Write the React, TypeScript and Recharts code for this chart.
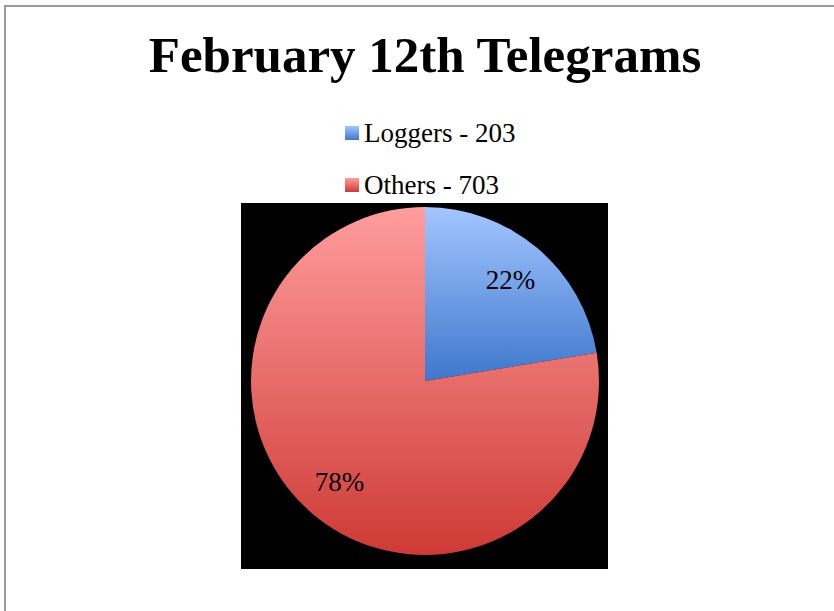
import React from 'react';
import { PieChart, Pie, Cell } from 'recharts';

const categories = ['Loggers', 'Others'];
const counts = [203, 703];
const legendLabels = ['Loggers - 203', 'Others - 703'];
const percentLabels = ['22%', '78%'];

const gradients = [
  { id: 'gLoggers', top: '#a3c6ff', bottom: '#3f77cc' },
  { id: 'gOthers', top: '#ff9d9d', bottom: '#ce3a35' },
];

const data = categories.map((name, i) => ({ name, value: counts[i] }));

const SERIF = '"Liberation Serif", "DejaVu Serif", serif';
const RADIAN = Math.PI / 180;

const renderLabel = (props: any) => {
  const { cx, cy, midAngle, outerRadius, index } = props;
  const r = outerRadius * 0.76;
  const x = cx + r * Math.cos(-midAngle * RADIAN);
  const y = cy + r * Math.sin(-midAngle * RADIAN);
  return (
    <text x={x} y={y} fill="#000" textAnchor="middle" dominantBaseline="central"
      fontFamily={SERIF} fontSize={27}>
      {percentLabels[index]}
    </text>
  );
};

const App: React.FC = () => {
  return (
    <div style={{ position: 'fixed', left: 0, top: 0, width: 834, height: 611, background: '#fff', overflow: 'hidden' }}>
      <div style={{
        position: 'absolute', left: 4, top: 5, width: 900, height: 700,
        borderTop: '2px solid #9a9a9a', borderLeft: '2px solid #9a9a9a',
      }} />
      <div style={{
        position: 'absolute', left: 0, top: 25, width: 850, textAlign: 'center',
        fontFamily: SERIF, fontWeight: 'bold', fontSize: 51, color: '#000', lineHeight: '60px',
      }}>
        February 12th Telegrams
      </div>
      {/* legend */}
      <div style={{ position: 'absolute', left: 345, top: 107, fontFamily: SERIF, fontSize: 27, color: '#000' }}>
        {legendLabels.map((label, i) => (
          <div key={label} style={{ display: 'flex', alignItems: 'center', height: 52 }}>
            <div style={{
              width: 14, height: 14, marginRight: 5,
              background: `linear-gradient(${gradients[i].top}, ${gradients[i].bottom})`,
            }} />
            <span>{label}</span>
          </div>
        ))}
      </div>
      <div style={{ position: 'absolute', left: 241, top: 203, width: 367, height: 366, background: '#000' }} />
      <div style={{ position: 'absolute', left: 0, top: 0 }}>
        <PieChart width={834} height={611} margin={{ top: 0, right: 0, bottom: 0, left: 0 }}>
          <defs>
            {gradients.map((g) => (
              <linearGradient key={g.id} id={g.id} x1="0" y1="0" x2="0" y2="1">
                <stop offset="0%" stopColor={g.top} />
                <stop offset="100%" stopColor={g.bottom} />
              </linearGradient>
            ))}
          </defs>
          <Pie
            data={data}
            dataKey="value"
            nameKey="name"
            cx={425}
            cy={381}
            outerRadius={174}
            startAngle={90}
            endAngle={-270}
            stroke="none"
            label={renderLabel}
            labelLine={false}
            isAnimationActive={false}
          >
            {data.map((d, i) => (
              <Cell key={d.name} fill={`url(#${gradients[i].id})`} />
            ))}
          </Pie>
        </PieChart>
      </div>
    </div>
  );
};

export default App;
